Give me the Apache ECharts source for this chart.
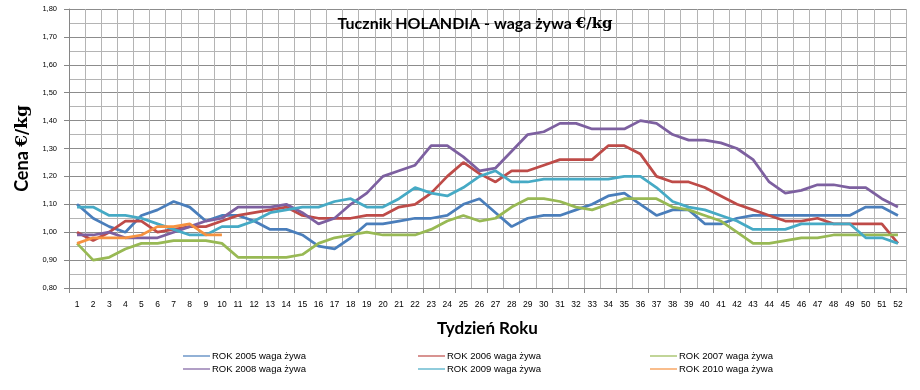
<!DOCTYPE html>
<html>
<head>
<meta charset="utf-8">
<script src="https://cdn.jsdelivr.net/npm/echarts@6/dist/echarts.min.js"></script>
<style>
html,body{margin:0;padding:0;background:#fff;}
#c{width:920px;height:390px;}
</style>
</head>
<body>
<div id="c"></div>
<script>
var weeks = [];
for (var i = 1; i <= 52; i++) weeks.push(String(i));

var seriesNames = ['ROK 2005 waga żywa','ROK 2006 waga żywa','ROK 2007 waga żywa','ROK 2008 waga żywa','ROK 2009 waga żywa','ROK 2010 waga żywa'];
var seriesColors = ['#4A7EBB','#BE4B48','#98B954','#7D60A0','#46AAC5','#F69240'];

var s2005 = [1.10,1.05,1.02,1.00,1.06,1.08,1.11,1.09,1.04,1.06,1.06,1.04,1.01,1.01,0.99,0.95,0.94,0.98,1.03,1.03,1.04,1.05,1.05,1.06,1.10,1.12,1.07,1.02,1.05,1.06,1.06,1.08,1.10,1.13,1.14,1.10,1.06,1.08,1.08,1.03,1.03,1.05,1.06,1.06,1.06,1.06,1.06,1.06,1.06,1.09,1.09,1.06];
var s2006 = [1.00,0.97,1.00,1.04,1.04,1.00,1.01,1.02,1.02,1.04,1.06,1.07,1.08,1.09,1.06,1.05,1.05,1.05,1.06,1.06,1.09,1.10,1.14,1.20,1.25,1.21,1.18,1.22,1.22,1.24,1.26,1.26,1.26,1.31,1.31,1.28,1.20,1.18,1.18,1.16,1.13,1.10,1.08,1.06,1.04,1.04,1.05,1.03,1.03,1.03,1.03,0.96];
var s2007 = [0.96,0.90,0.91,0.94,0.96,0.96,0.97,0.97,0.97,0.96,0.91,0.91,0.91,0.91,0.92,0.96,0.98,0.99,1.00,0.99,0.99,0.99,1.01,1.04,1.06,1.04,1.05,1.09,1.12,1.12,1.11,1.09,1.08,1.10,1.12,1.12,1.12,1.09,1.08,1.06,1.04,1.00,0.96,0.96,0.97,0.98,0.98,0.99,0.99,0.99,0.99,0.99];
var s2008 = [0.99,0.99,1.00,0.98,0.98,0.98,1.00,1.02,1.04,1.05,1.09,1.09,1.09,1.10,1.07,1.03,1.05,1.10,1.14,1.20,1.22,1.24,1.31,1.31,1.27,1.22,1.23,1.29,1.35,1.36,1.39,1.39,1.37,1.37,1.37,1.40,1.39,1.35,1.33,1.33,1.32,1.30,1.26,1.18,1.14,1.15,1.17,1.17,1.16,1.16,1.12,1.09];
var s2009 = [1.09,1.09,1.06,1.06,1.05,1.03,1.01,0.99,0.99,1.02,1.02,1.04,1.07,1.08,1.09,1.09,1.11,1.12,1.09,1.09,1.12,1.16,1.14,1.13,1.16,1.20,1.22,1.18,1.18,1.19,1.19,1.19,1.19,1.19,1.20,1.20,1.16,1.11,1.09,1.08,1.06,1.04,1.01,1.01,1.01,1.03,1.03,1.03,1.03,0.98,0.98,0.96];
var s2010 = [0.96,0.98,0.98,0.98,0.99,1.02,1.02,1.03,0.99,0.99];

var seriesData = [s2005, s2006, s2007, s2008, s2009, s2010];

var chart = echarts.init(document.getElementById('c'), null, {renderer: 'canvas'});

var series = seriesData.map(function (d, k) {
  return {
    name: seriesNames[k],
    type: 'line',
    data: d,
    symbol: 'none',
    smooth: false,
    lineStyle: {width: 2.75, color: seriesColors[k]},
    itemStyle: {color: seriesColors[k]},
    animation: false
  };
});

function legendCol(names, left) {
  return {
    data: names,
    orient: 'vertical',
    left: left,
    top: 350,
    icon: 'rect',
    itemWidth: 27,
    itemHeight: 1.2,
    itemGap: 1,
    padding: 0,
    textStyle: {fontFamily: 'Liberation Sans', fontSize: 9.5, color: '#000', lineHeight: 12, padding: [0, 0, 0, -3]},
    selectedMode: false
  };
}

chart.setOption({
  animation: false,
  backgroundColor: '#ffffff',
  title: {
    text: '{a|Tucznik HOLANDIA - waga żywa }{b|€/kg}',
    left: 470,
    textAlign: 'center',
    top: 11,
    textStyle: {
      rich: {
        a: {fontFamily: 'Lato', fontWeight: 'bold', fontSize: 16, color: '#000'},
        b: {fontFamily: 'DejaVu Serif', fontWeight: 'bold', fontSize: 15, color: '#000'}
      }
    }
  },
  legend: [
    legendCol([seriesNames[0], seriesNames[3]], 183),
    legendCol([seriesNames[1], seriesNames[4]], 418),
    legendCol([seriesNames[2], seriesNames[5]], 650)
  ],
  grid: {left: 69, right: 14, top: 9, bottom: 102, containLabel: false},
  xAxis: {
    type: 'category',
    data: weeks,
    boundaryGap: true,
    name: 'Tydzień Roku',
    nameLocation: 'middle',
    nameGap: 32,
    nameTextStyle: {fontFamily: 'Lato', fontWeight: 'bold', fontSize: 17, color: '#000'},
    axisLine: {show: true, lineStyle: {color: '#868686', width: 1}},
    axisTick: {show: true, interval: 1, length: 5, lineStyle: {color: '#868686'}},
    axisLabel: {interval: 0, fontFamily: 'Liberation Sans', fontSize: 8.5, color: '#000', margin: 12},
    splitLine: {show: true, interval: 0, lineStyle: {color: '#b4b4b4', width: 1}}
  },
  yAxis: {
    type: 'value',
    min: 0.8,
    max: 1.8,
    interval: 0.1,
    name: '{a|Cena }{b|€/kg}',
    nameLocation: 'middle',
    nameGap: 36,
    nameTextStyle: {
      rich: {
        a: {fontFamily: 'Lato', fontWeight: 'bold', fontSize: 18, color: '#000'},
        b: {fontFamily: 'DejaVu Serif', fontWeight: 'bold', fontSize: 17, color: '#000'}
      }
    },
    axisLine: {show: true, lineStyle: {color: '#868686', width: 1}},
    axisTick: {show: true, length: 5, lineStyle: {color: '#868686'}},
    axisLabel: {
      fontFamily: 'Liberation Sans', fontSize: 7.5, color: '#000', margin: 12,
      formatter: function (v) { return v.toFixed(2).replace('.', ','); }
    },
    splitLine: {show: true, lineStyle: {color: '#8c8c8c', width: 1}},
    minorTick: {show: false, splitNumber: 2},
    minorSplitLine: {show: true, lineStyle: {color: '#b4b4b4', width: 1}}
  },
  series: series
});
</script>
</body>
</html>
